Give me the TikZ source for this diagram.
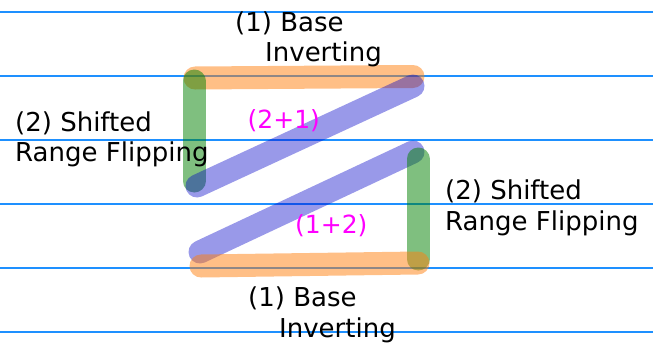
\documentclass[tikz,border=0pt]{standalone}
\usepackage{fontspec}
\setmainfont{DejaVu Sans}
\definecolor{gridblue}{RGB}{30,144,255}
\definecolor{strokeorange}{RGB}{255,127,14}
\definecolor{strokegreen}{RGB}{0,128,0}
\definecolor{strokeblue}{RGB}{0,0,200}
\definecolor{labelmagenta}{RGB}{255,0,255}
\begin{document}
\begin{tikzpicture}[x=1pt,y=-1pt,
  rulerline/.style={draw=gridblue,line width=1.6pt},
  stroke/.style={line width=23pt,line cap=round,opacity=0.5},
  orangestroke/.style={stroke,draw=strokeorange},
  greenstroke/.style={stroke,draw=strokegreen},
  bluestroke/.style={line width=23pt,line cap=round,opacity=0.4,draw=strokeblue},
  lbl/.style={anchor=base west,inner sep=0pt,font=\fontsize{26}{31}\selectfont},
  mlbl/.style={anchor=base west,inner sep=0pt,font=\fontsize{25}{30}\selectfont,text=labelmagenta}]
\useasboundingbox (0,0) rectangle (653,343);
% horizontal lines
\coordinate (gl0) at (0,11.7);     \coordinate (gr0) at (653,11.7);
\coordinate (gl1) at (0,75.7);     \coordinate (gr1) at (653,75.7);
\coordinate (gl2) at (0,139.7);    \coordinate (gr2) at (653,139.7);
\coordinate (gl3) at (0,203.7);    \coordinate (gr3) at (653,203.7);
\coordinate (gl4) at (0,267.7);    \coordinate (gr4) at (653,267.7);
\coordinate (gl5) at (0,331.7);    \coordinate (gr5) at (653,331.7);
\draw[rulerline] (gl0) -- (gr0);
\draw[rulerline] (gl1) -- (gr1);
\draw[rulerline] (gl2) -- (gr2);
\draw[rulerline] (gl3) -- (gr3);
\draw[rulerline] (gl4) -- (gr4);
\draw[rulerline] (gl5) -- (gr5);
% stroke end points
\coordinate (otl) at (195,78);
\coordinate (otr) at (413,76.5);
\coordinate (glt) at (194,81);
\coordinate (glb) at (194,181);
\coordinate (bul) at (197,186);
\coordinate (bur) at (413,86);
\coordinate (bll) at (200,252);
\coordinate (blr) at (413,152);
\coordinate (grt) at (418,159);
\coordinate (grb) at (418,259);
\coordinate (obl) at (201,266);
\coordinate (obr) at (418,263);
\draw[orangestroke] (otl) -- (otr);
\draw[greenstroke] (glt) -- (glb);
\draw[bluestroke] (bul) -- (bur);
\draw[bluestroke] (bll) -- (blr);
\draw[greenstroke] (grt) -- (grb);
\draw[orangestroke] (obl) -- (obr);
% labels
\node[lbl] (t1) at (235,31.7) {(1) Base};
\node[lbl] (t2) at (265,61.7) {Inverting};
\node[lbl] (l1) at (15,131) {(2) Shifted};
\node[lbl] (l2) at (15,161.7) {Range Flipping};
\node[lbl] (r1) at (445,199.3) {(2) Shifted};
\node[lbl] (r2) at (445,230) {Range Flipping};
\node[lbl] (b1) at (248,306.7) {(1) Base};
\node[lbl] (b2) at (279,337.5) {Inverting};
\node[mlbl] (m1) at (247.5,128.3) {(2+1)};
\node[mlbl] (m2) at (295,233.3) {(1+2)};
\end{tikzpicture}
\end{document}
